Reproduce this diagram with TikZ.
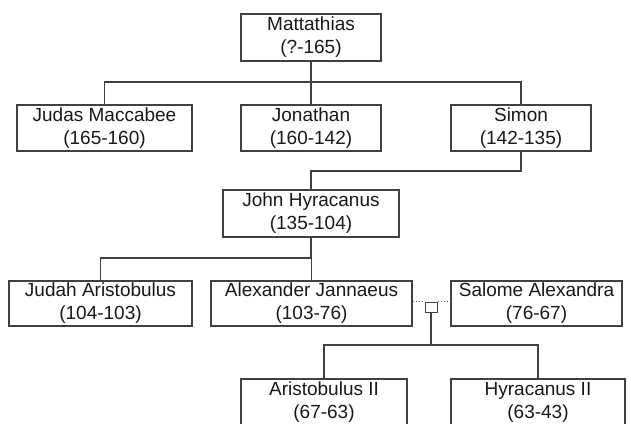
\documentclass[tikz,border=0pt]{standalone}
\usepackage{fontspec}
\setmainfont{Liberation Sans}
\begin{document}
\begin{tikzpicture}[x=1pt,y=-1pt,
  box/.style={draw=black!75, line width=1.1pt, fill=white, inner sep=0pt,
    align=center, font=\fontsize{19}{23}\selectfont, text=black!90},
  link/.style={draw=black!75, line width=1.1pt},
  marr/.style={draw=black!55, line width=1pt, dotted}]
\useasboundingbox (0,0) rectangle (631,423);
\clip (0,0) rectangle (631,423);
\fill[white] (0,0) rectangle (631,423);
% row 0
\node[box, minimum width=140, minimum height=47] (mat) at (311,37.5) {Mattathias\\(?-165)};
% row 1
\node[box, minimum width=175, minimum height=46] (judas) at (104.5,128) {Judas Maccabee\\(165-160)};
\node[box, minimum width=140, minimum height=46] (jon) at (311,128) {Jonathan\\(160-142)};
\node[box, minimum width=140, minimum height=46] (simon) at (521,128) {Simon\\(142-135)};
% row 2
\node[box, minimum width=176, minimum height=47] (john) at (311,213.5) {John Hyracanus\\(135-104)};
% row 3
\node[box, minimum width=183, minimum height=45] (judah) at (100.5,303.5) {Judah Aristobulus\\(104-103)};
\node[box, minimum width=201, minimum height=45] (alex) at (311.5,303.5) {Alexander Jannaeus\\(103-76)};
\node[box, minimum width=171, minimum height=45] (salome) at (536.5,303.5) {Salome Alexandra\\(76-67)};
\node[draw=black!75, line width=1pt, fill=white, minimum width=12, minimum height=10, inner sep=0pt] (sq) at (431,307) {};
% row 4
\node[box, minimum width=166, minimum height=46] (aris) at (324,402) {Aristobulus II\\(67-63)};
\node[box, minimum width=174, minimum height=46] (hyr) at (538,402) {Hyracanus II\\(63-43)};
% junctions
\coordinate (j1) at (311,82);
\coordinate (j2) at (521,171);
\coordinate (j3) at (311,258);
\coordinate (j4) at (431,345);
% connectors
\draw[link] (mat.south) -- (jon.north);
\draw[link] (judas.north) |- (j1) -| (simon.north);
\draw[link] (simon.south) -- (j2) -| (john.north);
\draw[link] (john.south) -- (j3);
\draw[link] (judah.north) |- (j3) -| (alex.north);
\draw[marr] (alex.east |- sq.north) -- (sq.north west);
\draw[marr] (sq.north east) -- (salome.west |- sq.north);
\draw[link] (sq.south) -- (j4);
\draw[link] (aris.north) |- (j4) -| (hyr.north);
\end{tikzpicture}
\end{document}
